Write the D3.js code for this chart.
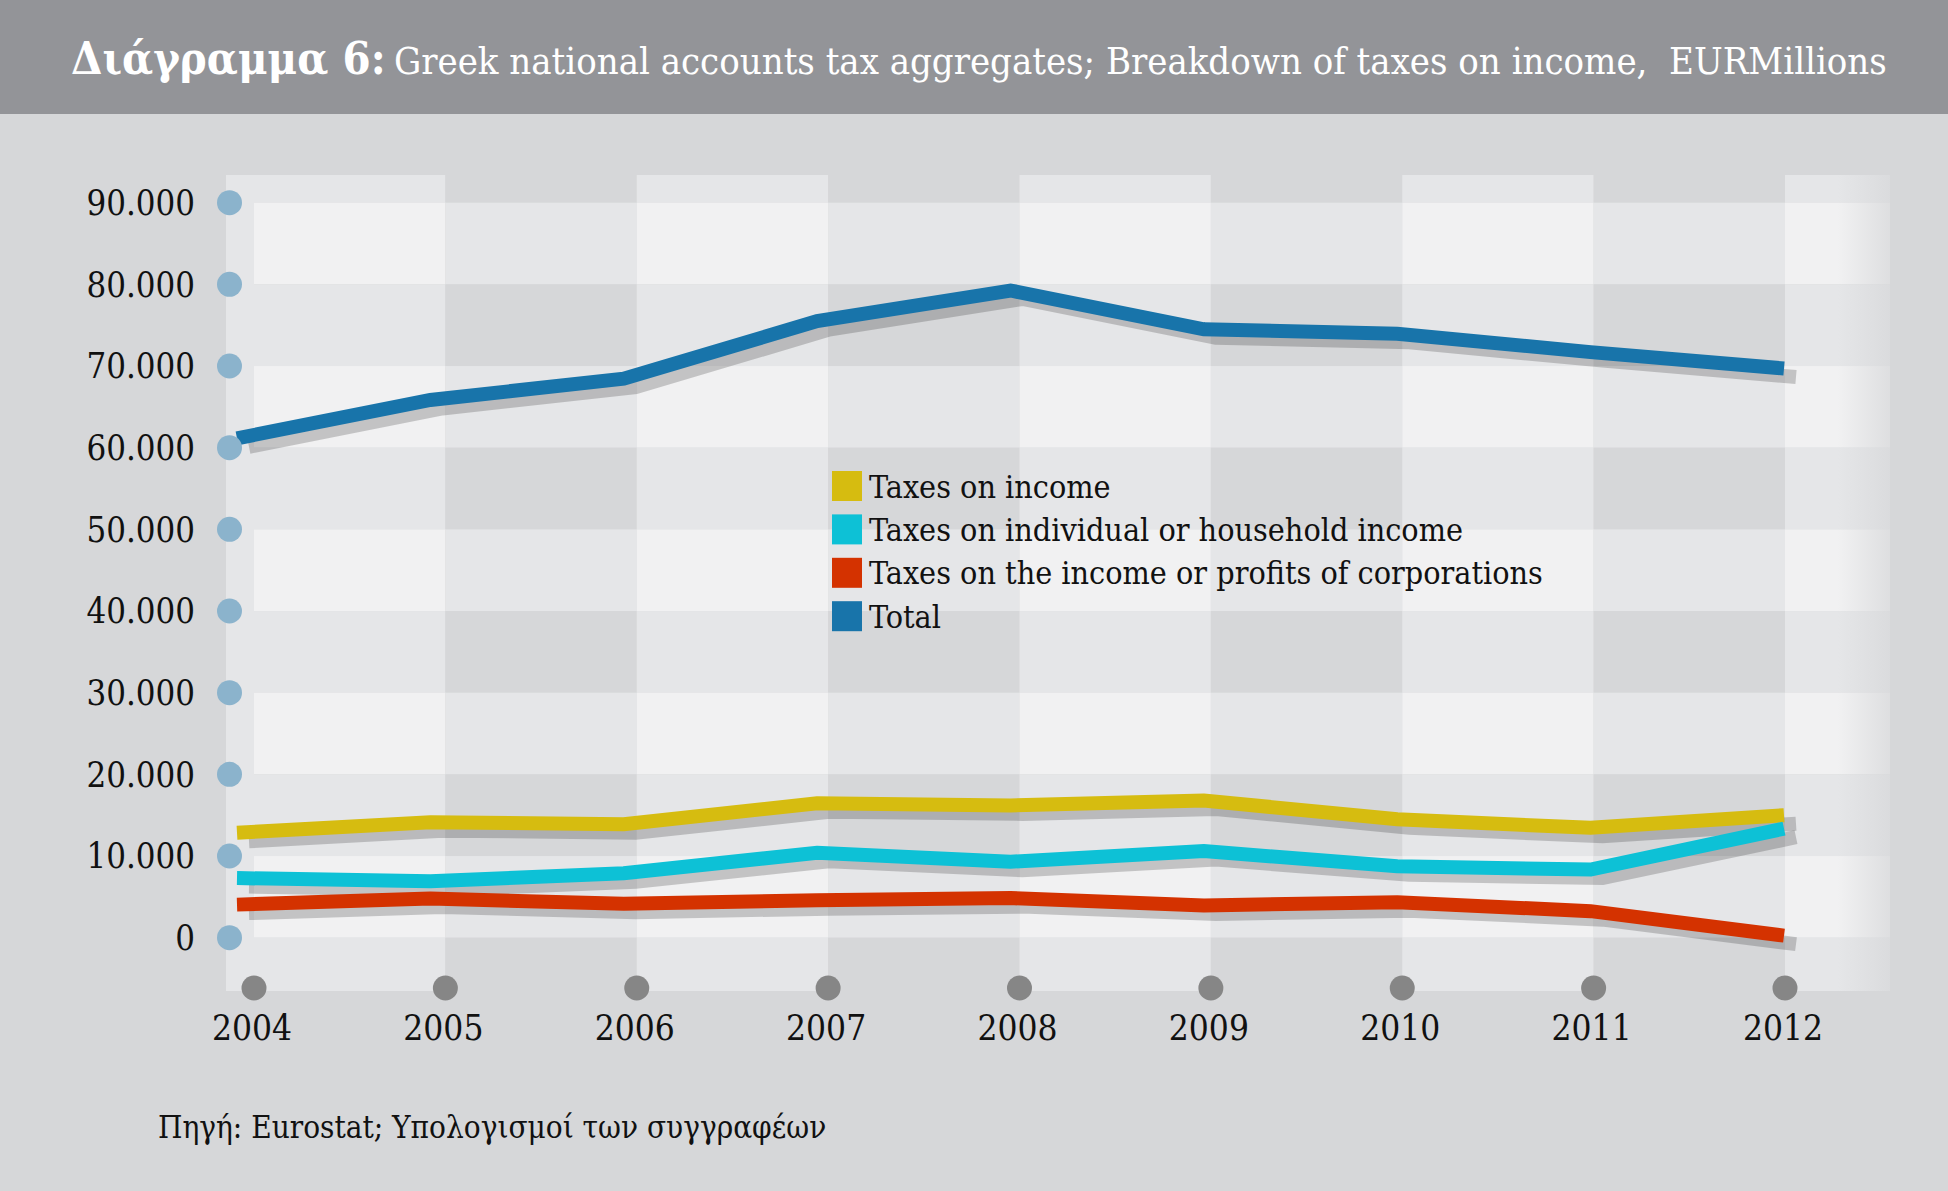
<!DOCTYPE html>
<html>
<head>
<meta charset="utf-8">
<script src="https://cdn.jsdelivr.net/npm/d3@7"></script>
<style>
  html, body { margin: 0; padding: 0; background: #d6d7d9; }
  svg { display: block; }
  text { font-family: "DejaVu Serif Condensed", "DejaVu Serif", serif; white-space: pre; }
</style>
</head>
<body>
<svg id="chart" width="1948" height="1191"></svg>
<script>
// ---------- DATA ----------
const years = [2004, 2005, 2006, 2007, 2008, 2009, 2010, 2011, 2012];
const taxesOnIncome    = [12850, 14150, 13900, 16450, 16200, 16800, 14500, 13450, 15000];
const individualIncome = [7300, 6900, 7900, 10400, 9300, 10600, 8750, 8350, 13350];
const corporations     = [4050, 4800, 4150, 4600, 4850, 3950, 4350, 3250, 250];
const totalTaxes       = [61150, 65850, 68450, 75500, 79250, 74500, 73950, 71700, 69700];
const yTicks = [0, 10000, 20000, 30000, 40000, 50000, 60000, 70000, 80000, 90000];
const seriesNames = ["Taxes on income", "Taxes on individual or household income",
                     "Taxes on the income or profits of corporations", "Total"];
const seriesColors = ["#d6bc10", "#0dc1d6", "#d43200", "#1874aa"];
const titleBold = "Διάγραμμα 6:";
const titleRest = "Greek national accounts tax aggregates; Breakdown of taxes on income,  EURMillions";
const sourceText = "Πηγή: Eurostat; Υπολογισμοί των συγγραφέων";

// ---------- LAYOUT ----------
const W = 1948, H = 1191;
const plotLeft = 226, plotRight = 1890, plotTop = 175, plotBottom = 991;
const BG = "#d6d7d9", MID = "#e5e6e8", LIGHT = "#f1f1f2";

const svg = d3.select("#chart");
const locale = d3.formatLocale({decimal: ",", thousands: ".", grouping: [3], currency: ["", "€"]});
const fmt = locale.format(",d");

const y = d3.scaleLinear().domain([0, 90000]).range([937.7, 202.7]);
const xLine = d3.scalePoint().domain(years).range([237, 1784]);
const xGrid = d3.scalePoint().domain(years).range([254, 1785]);

// background
svg.append("rect").attr("width", W).attr("height", H).attr("fill", BG);

// header
svg.append("rect").attr("width", W).attr("height", 114).attr("fill", "#939498");
svg.append("text").attr("x", 71).attr("y", 74)
  .attr("fill", "#fff").attr("font-weight", "bold").attr("font-size", 45)
  .text(titleBold);
svg.append("text").attr("x", 394).attr("y", 74)
  .attr("fill", "#fff").attr("font-size", 37.9)
  .text(titleRest);

// ---------- GRID (checkerboard) ----------
const rowEdges = [plotTop].concat(yTicks.slice().reverse().map(v => y(v))).concat([plotBottom]);
const rows = [];
for (let i = 0; i < rowEdges.length - 1; i++) {
  let light;
  if (i === 0 || i === rowEdges.length - 2) light = false;
  else light = ((i - 1) % 2 === 0);
  rows.push({y0: rowEdges[i], y1: rowEdges[i + 1], light});
}
const colEdges = years.map(d => xGrid(d)).concat([plotRight]);
const cols = [];
for (let j = 0; j < colEdges.length - 1; j++) {
  cols.push({x0: colEdges[j], x1: colEdges[j + 1], light: (j % 2 === 0)});
}
const grid = svg.append("g");
rows.forEach(r => {
  cols.forEach(c => {
    const n = (r.light ? 1 : 0) + (c.light ? 1 : 0);
    const fill = n === 2 ? LIGHT : (n === 1 ? MID : BG);
    grid.append("rect").attr("x", c.x0).attr("y", r.y0)
      .attr("width", c.x1 - c.x0).attr("height", r.y1 - r.y0).attr("fill", fill);
  });
});
grid.append("rect").attr("x", plotLeft).attr("y", plotTop)
  .attr("width", xGrid(years[0]) - plotLeft).attr("height", plotBottom - plotTop).attr("fill", MID);

// right fade
const defs = svg.append("defs");
const grad = defs.append("linearGradient").attr("id", "fade").attr("x1", 0).attr("x2", 1).attr("y1", 0).attr("y2", 0);
grad.append("stop").attr("offset", "0%").attr("stop-color", BG).attr("stop-opacity", 0);
grad.append("stop").attr("offset", "50%").attr("stop-color", BG).attr("stop-opacity", 0.75);
grad.append("stop").attr("offset", "100%").attr("stop-color", BG).attr("stop-opacity", 1);
svg.append("rect").attr("x", 1838).attr("y", plotTop).attr("width", W - 1838)
  .attr("height", plotBottom - plotTop).attr("fill", "url(#fade)");

// ---------- LINES ----------
const series = [
  {name: seriesNames[3], color: seriesColors[3], values: totalTaxes},
  {name: seriesNames[0], color: seriesColors[0], values: taxesOnIncome},
  {name: seriesNames[1], color: seriesColors[1], values: individualIncome},
  {name: seriesNames[2], color: seriesColors[2], values: corporations}
];
const line = d3.line().x((d, i) => xLine(years[i])).y(d => y(d));
const linesG = svg.append("g");
series.forEach(s => {
  linesG.append("path").attr("d", line(s.values))
    .attr("fill", "none").attr("stroke", "#000").attr("stroke-opacity", 0.19)
    .attr("stroke-width", 14).attr("transform", "translate(12,8.5)");
  linesG.append("path").attr("d", line(s.values))
    .attr("fill", "none").attr("stroke", s.color).attr("stroke-width", 14)
    .attr("stroke-linejoin", "miter");
});

// ---------- Y AXIS ----------
const yAxis = svg.append("g");
yAxis.selectAll("circle").data(yTicks).join("circle")
  .attr("cx", 229.5).attr("cy", d => y(d)).attr("r", 12.5).attr("fill", "#8bb3cc");
yAxis.selectAll("text").data(yTicks).join("text")
  .attr("x", 195).attr("y", d => y(d)).attr("dy", "0.36em")
  .attr("text-anchor", "end").attr("font-size", 34.5).attr("fill", "#111")
  .text(d => fmt(d));

// ---------- X AXIS ----------
const xAxis = svg.append("g");
xAxis.selectAll("circle").data(years).join("circle")
  .attr("cx", d => xGrid(d)).attr("cy", 988).attr("r", 12.5).attr("fill", "#868686");
xAxis.selectAll("text").data(years).join("text")
  .attr("x", d => xGrid(d) - 2).attr("y", 1027).attr("dy", "0.36em")
  .attr("text-anchor", "middle").attr("font-size", 35).attr("fill", "#111")
  .text(d => d);

// ---------- LEGEND ----------
const legendOrder = [0, 1, 2, 3];
const lg = svg.append("g");
legendOrder.forEach((k, i) => {
  const cy = 486 + i * 43.4;
  lg.append("rect").attr("x", 832).attr("y", cy - 15).attr("width", 30).attr("height", 30)
    .attr("fill", seriesColors[k]);
  lg.append("text").attr("x", 869).attr("y", cy).attr("dy", "0.36em")
    .attr("font-size", 32).attr("fill", "#111").text(seriesNames[k]);
});

// ---------- SOURCE ----------
svg.append("text").attr("x", 158).attr("y", 1127).attr("dy", "0.36em")
  .attr("font-size", 31.2).attr("fill", "#111").text(sourceText);
</script>
</body>
</html>
